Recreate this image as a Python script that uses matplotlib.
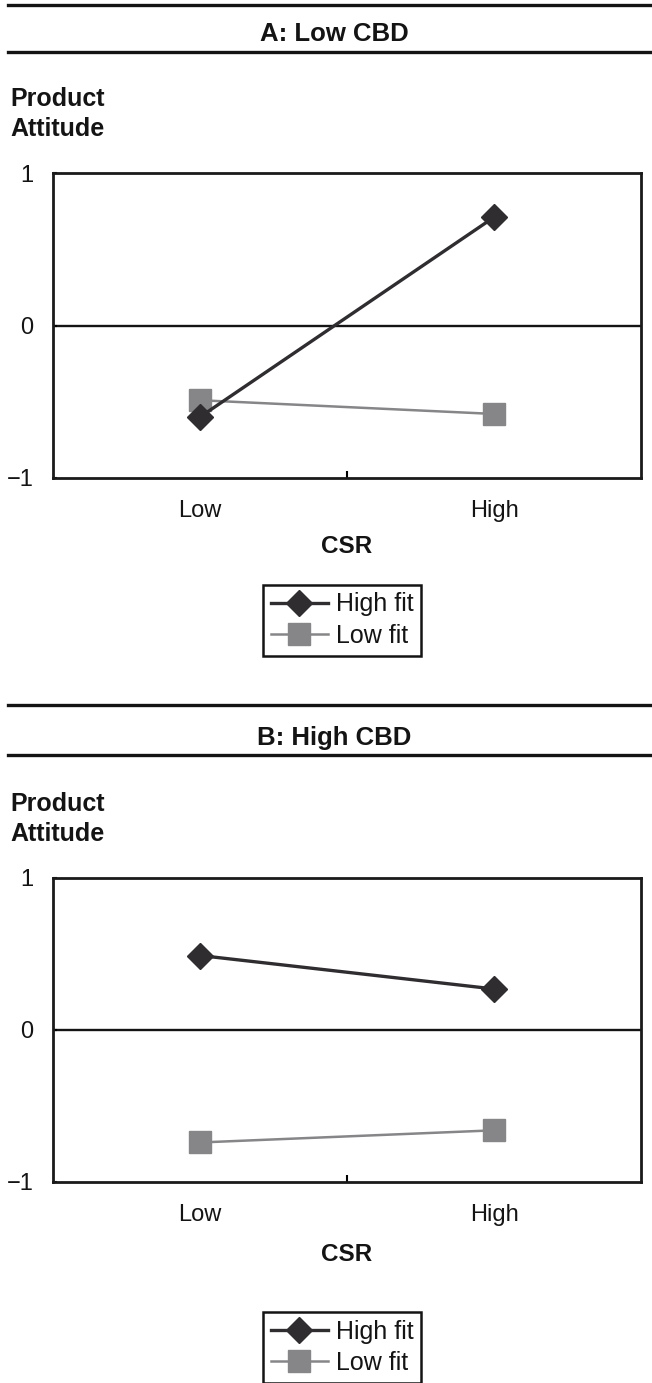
import matplotlib.pyplot as plt
import matplotlib.lines as mlines
import numpy as np

plt.rcParams['font.family'] = ['Liberation Sans', 'DejaVu Sans']

# data
csr_levels = ['Low', 'High']
panel_titles = ['A: Low CBD', 'B: High CBD']
high_fit = [[-0.60, 0.71], [0.49, 0.27]]
low_fit = [[-0.49, -0.58], [-0.74, -0.66]]

W, H = 652, 1383
fig = plt.figure(figsize=(W / 100, H / 100), dpi=100)

def fx(px):
    return px / W

def fy(py):
    return 1 - py / H

# pixel layout of each panel (text rows given as baselines)
panels = [
    dict(rule1=5, title=41, rule2=52, prod=106, att=136, top=173, bottom=478, csr=553, leg=585),
    dict(rule1=705, title=745, rule2=755, prod=811, att=841, top=878, bottom=1182, csr=1261, leg=1312),
]

dark = '#2f2d30'
grey = '#868689'
ink = '#141414'
x = np.array([0.5, 1.5])

for i, p in enumerate(panels):
    # horizontal rules and the panel title
    for r in (p['rule1'], p['rule2']):
        fig.add_artist(mlines.Line2D([fx(8), 1], [fy(r), fy(r)], color=ink, lw=2.4))
    fig.text(fx(334), fy(p['title']), panel_titles[i], ha='center', va='baseline',
             fontsize=18.5, fontweight='bold', color=ink)
    fig.text(fx(10), fy(p['prod']), 'Product', ha='left', va='baseline',
             fontsize=18, fontweight='bold', color=ink)
    fig.text(fx(10), fy(p['att']), 'Attitude', ha='left', va='baseline',
             fontsize=18, fontweight='bold', color=ink)

    ax = fig.add_axes([fx(53), fy(p['bottom']), fx(641 - 53), (p['bottom'] - p['top']) / H])
    ax.set_xlim(0, 2)
    ax.set_ylim(-1, 1)
    ax.axhline(0, color=ink, lw=1.7, zorder=1)

    ax.plot(x, low_fit[i], color=grey, lw=1.8, marker='s', ms=16, mec=grey, mfc=grey,
            label='Low fit', zorder=2)
    ax.plot(x, high_fit[i], color=dark, lw=2.4, marker='D', ms=13.7, mec=dark, mfc=dark,
            label='High fit', zorder=3)

    for s in ax.spines.values():
        s.set_linewidth(2.0)
        s.set_color('#1a1a1a')

    ax.set_yticks([-1, 0, 1])
    ax.set_yticklabels(['\u22121', '0', '1'])
    ax.tick_params(axis='y', direction='in', length=3, width=1.5, pad=14, labelsize=17,
                   labelcolor=ink)
    ax.set_xticks(x)
    ax.set_xticklabels(csr_levels)
    ax.tick_params(axis='x', length=0, pad=16, labelsize=17, labelcolor=ink)
    ax.set_xticks([1.0], minor=True)
    ax.tick_params(axis='x', which='minor', direction='in', length=5, width=1.5)

    fig.text(fx(347), fy(p['csr']), 'CSR', ha='center', va='baseline',
             fontsize=17.5, fontweight='bold', color=ink)

    handles, labels = ax.get_legend_handles_labels()
    leg = fig.legend(handles[::-1], labels[::-1], loc='upper left',
                     bbox_to_anchor=(fx(263), fy(p['leg'])), bbox_transform=fig.transFigure,
                     borderaxespad=0, borderpad=0.3, labelspacing=0.3, handlelength=2.3,
                     handletextpad=0.3, fontsize=18, fancybox=False, framealpha=1,
                     edgecolor=ink, markerscale=0.95)
    leg.get_frame().set_linewidth(1.8)
    for t in leg.get_texts():
        t.set_color(ink)

fig.savefig('out.png', dpi=100)
